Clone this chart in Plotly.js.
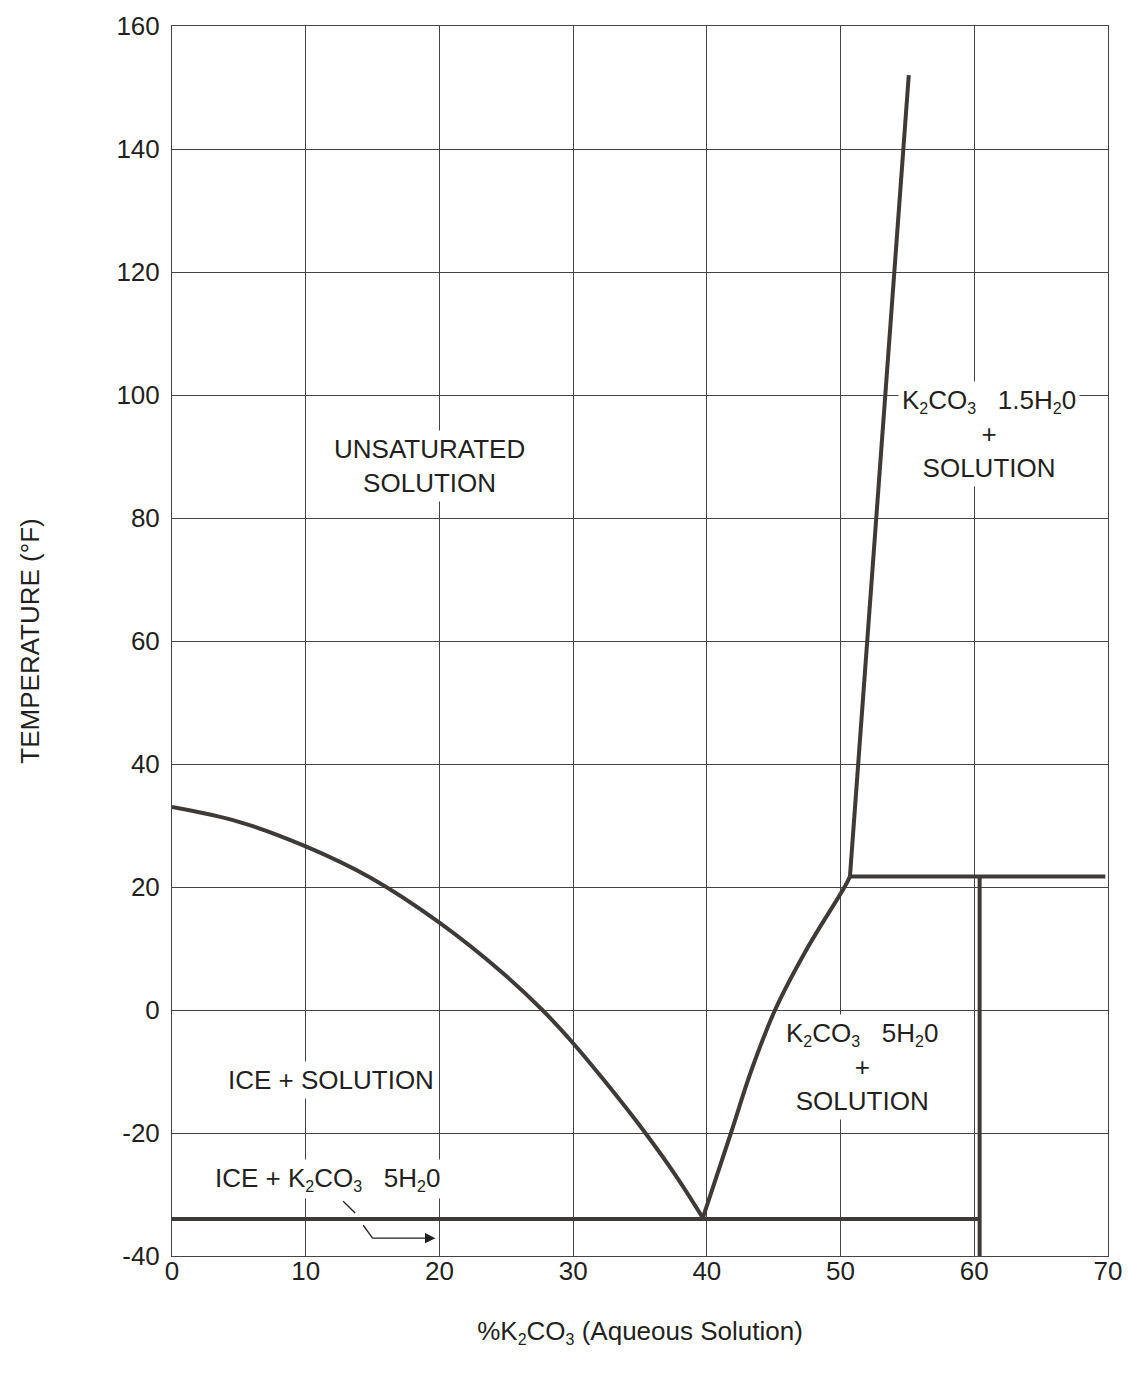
<!DOCTYPE html>
<html>
<head>
<meta charset="utf-8">
<script src="https://cdn.plot.ly/plotly-3.0.1.min.js"></script>
<style>html,body{margin:0;padding:0;background:#fff;}#chart{width:1129px;height:1374px;}</style>
</head>
<body>
<div id="chart"></div>
<script>
// Ice + solution boundary (freezing curve)
const iceX = [0, 5, 10, 14.85, 20, 24.8, 27.7, 30, 32.3, 35.4, 37.7, 39.7];
const iceY = [33, 30.6, 26.6, 21.5, 14.2, 5.9, 0, -5.4, -11.4, -20, -27, -33.8];
// K2CO3·5H2O solubility curve
const pentaX = [39.7, 41.8, 43.3, 45.1, 47.5, 50.3, 50.7];
const pentaY = [-33.8, -20, -10, 0, 10, 20, 21.7];
// K2CO3·1.5H2O solubility curve
const sesquiX = [50.7, 55.1];
const sesquiY = [21.7, 152];
// Transition line at 21.7 °F
const transX = [50.7, 69.8];
const transY = [21.7, 21.7];
// Eutectic line
const eutX = [0, 60.4];
const eutY = [-34, -34];
// Vertical boundary
const vertX = [60.4, 60.4];
const vertY = [21.7, -40];
// Pointer leader
const leaderX = [12.8, 13.7, null, 14.3, 15.0, 19.2];
const leaderY = [-31.1, -33.0, null, -35.0, -37.1, -37.1];

const xTicks = [0, 10, 20, 30, 40, 50, 60, 70];
const yTicks = [-40, -20, 0, 20, 40, 60, 80, 100, 120, 140, 160];

const S = d => '<sub><span style="font-size:16px">' + d + '</span></sub>';
const labels = [
  {text: 'UNSATURATED<br>SOLUTION', x: 19.25, y: 88.4},
  {text: 'K' + S('2') + 'CO' + S('3') + '   1.5H' + S('2') + '0<br>+<br>SOLUTION', x: 61.1, y: 93.7},
  {text: 'K' + S('2') + 'CO' + S('3') + '   5H' + S('2') + '0<br>+<br>SOLUTION', x: 51.6, y: -9.3},
  {text: 'ICE + SOLUTION', x: 11.9, y: -11.4},
  {text: 'ICE + K' + S('2') + 'CO' + S('3') + '   5H' + S('2') + '0', x: 11.6, y: -27.4}
];

const FONT = 'Liberation Sans, Arial, Helvetica, sans-serif';
const FS = 26;
const INK = '#231f20';
const LINE = '#3d3a38';
const GRID = '#444444';

function tr(x, y, extra) {
  return Object.assign({x: x, y: y, mode: 'lines', type: 'scatter', line: {color: LINE, width: 4}, hoverinfo: 'skip', showlegend: false}, extra || {});
}
const data = [
  tr(iceX, iceY, {line: {color: LINE, width: 4, shape: 'spline', smoothing: 1}}),
  tr(pentaX, pentaY, {line: {color: LINE, width: 4, shape: 'spline', smoothing: 1}}),
  tr(sesquiX, sesquiY),
  tr(transX, transY),
  tr(eutX, eutY),
  tr(vertX, vertY, {cliponaxis: false}),
  tr(leaderX, leaderY, {line: {color: INK, width: 1.3}})
];

const annotations = labels.map(l => ({
  x: l.x, y: l.y, xref: 'x', yref: 'y', text: l.text, showarrow: false,
  font: {family: FONT, size: FS, color: INK}, bgcolor: '#ffffff', borderpad: 3, align: 'center'
}));
annotations.push({
  x: 19.7, y: -37.1, ax: 19.0, ay: -37.1, axref: 'x', ayref: 'y', xref: 'x', yref: 'y',
  text: '', showarrow: true, arrowhead: 2, arrowsize: 1.6, arrowwidth: 1.3, arrowcolor: INK
});

const layout = {
  width: 1129, height: 1374,
  margin: {l: 172, r: 21, t: 26, b: 118},
  paper_bgcolor: '#ffffff', plot_bgcolor: '#ffffff',
  showlegend: false,
  font: {family: FONT, color: INK, size: FS},
  xaxis: {
    range: [0, 70], tickvals: xTicks, ticktext: xTicks.map(String),
    showgrid: true, gridcolor: GRID, gridwidth: 1,
    showline: true, linecolor: GRID, linewidth: 1, mirror: true,
    zeroline: false, ticks: '', fixedrange: true, ticklabelstandoff: -8,
    tickfont: {family: FONT, size: FS, color: INK},
    title: {text: '%K' + S('2') + 'CO' + S('3') + ' (Aqueous Solution)', font: {family: FONT, size: FS, color: INK}, standoff: 36}
  },
  yaxis: {
    range: [-40, 160], tickvals: yTicks, ticktext: yTicks.map(String),
    showgrid: true, gridcolor: GRID, gridwidth: 1,
    showline: true, linecolor: GRID, linewidth: 1, mirror: true,
    zeroline: false, ticks: '', fixedrange: true, ticklabelstandoff: 6,
    tickfont: {family: FONT, size: FS, color: INK},
    title: {text: 'TEMPERATURE (°F)', font: {family: FONT, size: FS, color: INK}, standoff: 69}
  },
  annotations: annotations
};

Plotly.newPlot('chart', data, layout, {displayModeBar: false, staticPlot: true});
</script>
</body>
</html>
